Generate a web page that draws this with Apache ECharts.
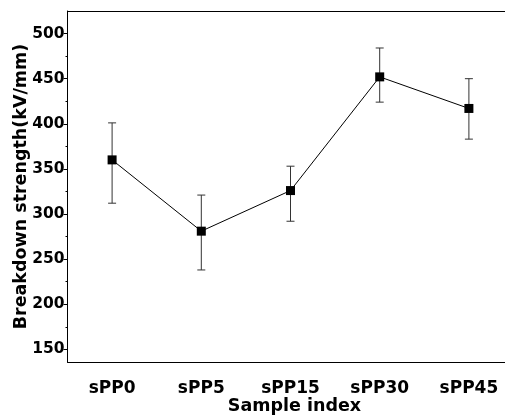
<!DOCTYPE html>
<html>
<head>
<meta charset="utf-8">
<script src="https://cdn.jsdelivr.net/npm/echarts@6/dist/echarts.min.js"></script>
<style>html,body{margin:0;padding:0;background:#fff;}#c{width:505px;height:417px;}</style>
</head>
<body>
<div id="c"></div>
<script>
var categories = ['sPP0', 'sPP5', 'sPP15', 'sPP30', 'sPP45'];
var meanValues = [360, 281, 326, 452, 417];
var upperValues = [401, 321, 353, 484, 450];
var lowerValues = [312, 238, 292, 424, 383];
var yLabelValues = [150, 200, 250, 300, 350, 400, 450, 500];
var yMinorValues = [150, 175, 200, 225, 250, 275, 300, 325, 350, 375, 400, 425, 450, 475, 500];

var FONT = 'DejaVu Sans';
var chart = echarts.init(document.getElementById('c'));
var errData = categories.map(function (c, i) { return [i, lowerValues[i], upperValues[i]]; });

chart.setOption({
  animation: false,
  backgroundColor: '#fff',
  grid: { left: 67.5, right: -8.5, top: 11, bottom: 55, show: false, outerBoundsMode: 'none', containLabel: false },
  xAxis: [{
    type: 'category',
    data: categories,
    boundaryGap: true,
    name: 'Sample index',
    nameLocation: 'middle',
    nameGap: 35,
    nameMoveOverlap: false,
    nameTextStyle: { fontFamily: FONT, fontWeight: 'bold', fontSize: 17.5, color: '#000', padding: [0, 0, 0, 8] },
    axisLine: { lineStyle: { color: '#000', width: 1 } },
    axisTick: { inside: true, length: 4, alignWithLabel: true, lineStyle: { color: '#000' } },
    axisLabel: { fontFamily: FONT, fontWeight: 'bold', fontSize: 17, color: '#000', margin: 18, hideOverlap: false },
    splitLine: { show: false }
  }, {
    type: 'category',
    data: categories,
    position: 'top',
    axisLine: { show: true, onZero: false, lineStyle: { color: '#000', width: 1 } },
    axisTick: { show: false },
    axisLabel: { show: false },
    splitLine: { show: false }
  }],
  yAxis: [{
    type: 'value',
    min: 136,
    max: 525,
    name: 'Breakdown strength(kV/mm)',
    nameLocation: 'middle',
    nameGap: 37,
    nameMoveOverlap: false,
    nameTextStyle: { fontFamily: FONT, fontWeight: 'bold', fontSize: 17.5, color: '#000' },
    axisLine: { show: true, onZero: false, lineStyle: { color: '#000', width: 1 } },
    axisTick: { show: true, length: 4, customValues: yLabelValues, lineStyle: { color: '#000' } },
    axisLabel: { fontFamily: FONT, fontWeight: 'bold', fontSize: 15.5, color: '#000', margin: 3, customValues: yLabelValues },
    splitLine: { show: false }
  }, {
    type: 'value',
    min: 136,
    max: 525,
    position: 'left',
    axisLine: { show: false },
    axisTick: { show: true, length: 2, customValues: yMinorValues, lineStyle: { color: '#000' } },
    axisLabel: { show: false },
    splitLine: { show: false }
  }],
  series: [{
    type: 'custom',
    data: errData,
    z: 1,
    renderItem: function (params, api) {
      var x = api.value(0);
      var lo = api.coord([x, api.value(1)]);
      var hi = api.coord([x, api.value(2)]);
      var w = 4;
      var st = { stroke: '#333', lineWidth: 1 };
      return { type: 'group', children: [
        { type: 'line', shape: { x1: hi[0], y1: hi[1], x2: lo[0], y2: lo[1] }, style: st },
        { type: 'line', shape: { x1: hi[0] - w, y1: hi[1], x2: hi[0] + w, y2: hi[1] }, style: st },
        { type: 'line', shape: { x1: lo[0] - w, y1: lo[1], x2: lo[0] + w, y2: lo[1] }, style: st }
      ] };
    }
  }, {
    type: 'line',
    data: meanValues,
    z: 3,
    symbol: 'rect',
    symbolSize: 9,
    lineStyle: { color: '#000', width: 1 },
    itemStyle: { color: '#000' }
  }]
});
</script>
</body>
</html>
